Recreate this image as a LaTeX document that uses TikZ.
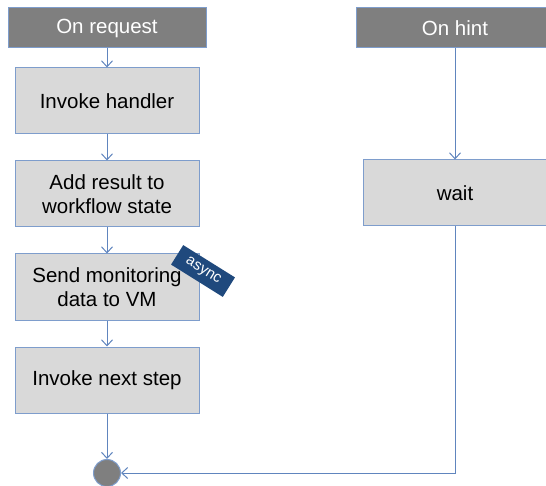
\documentclass[tikz,border=0pt]{standalone}
\usepackage{fontspec}
\setmainfont{Liberation Sans}
\usepackage{tikz}
\usetikzlibrary{arrows.meta}
\usetikzlibrary{positioning}
\definecolor{boxfill}{RGB}{217,217,217}
\definecolor{boxline}{RGB}{126,157,204}
\definecolor{flowline}{RGB}{96,133,190}
\definecolor{headfill}{RGB}{127,127,127}
\definecolor{tagblue}{RGB}{31,73,125}
\tikzset{
  fc_node/.style = {align=center, inner sep=0pt, text centered,
    font=\fontsize{20.5}{24.6}\selectfont},
  fc_head/.style = {fc_node, rectangle, text=white, fill=headfill, draw=boxline,
    line width=1pt, minimum width=198pt, minimum height=40pt},% header of a column
  fc_box/.style = {fc_node, rectangle, fill=boxfill, draw=boxline,
    line width=1pt, minimum width=184pt, minimum height=66pt},% one step
  fc_end/.style = {circle, fill=headfill, draw=boxline, line width=1pt,
    minimum size=27pt, inner sep=0pt},% end point
  fc_tag/.style = {rectangle, text=white, fill=tagblue, inner sep=0pt,
    font=\fontsize{15}{18}\selectfont, minimum width=61pt, minimum height=23pt},% async flag
  fc_flow/.style = {draw=flowline, line width=1pt,
    -{Straight Barb[length=6pt,width=11pt]}}
}

\begin{document}
\begin{tikzpicture}[x=1pt,y=1pt]
\useasboundingbox (0,0) rectangle (546,-486);

% left column
\node [fc_head] (req) at (107,-28) {On request};
\node [fc_box, below=19pt of req] (invoke) {Invoke handler};
\node [fc_box, below=26pt of invoke] (addres) {Add result to\\workflow state};
\node [fc_box, below=26pt of addres] (sendmon) {Send monitoring\\data to VM};
\node [fc_box, below=26pt of sendmon] (next) {Invoke next step};
\node [fc_end] (done) at (107,-473) {};

% right column
\node [fc_head] (hint) at (455,-28) {On hint};
\node [fc_box, below=111pt of hint] (wait) {wait};

\node [fc_tag, rotate=-32] (async) at (203,-271) {async};

\draw [fc_flow] (req) -- (invoke);
\draw [fc_flow] (invoke) -- (addres);
\draw [fc_flow] (addres) -- (sendmon);
\draw [fc_flow] (sendmon) -- (next);
\draw [fc_flow] (next) -- (done);
\draw [fc_flow] (hint) -- (wait);
\draw [fc_flow] (wait) |- (done);
\end{tikzpicture}
\end{document}
